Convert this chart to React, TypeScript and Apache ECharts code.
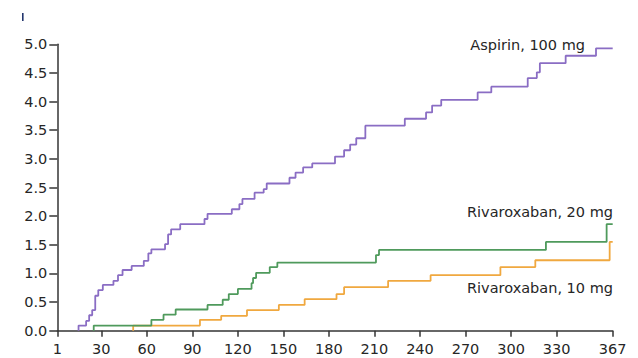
import React, { useEffect, useRef } from "react";
import * as echarts from "echarts";

// Cumulative incidence (%) by study day; each pair is [day, value after the event on that day]
const aspirinDays = [15, 15, 20, 22, 24, 26, 28, 31, 38, 41, 44, 50, 58, 61, 63, 72, 74, 76, 82, 98, 100, 116, 121, 123, 131, 137, 139, 154, 158, 163, 169, 184, 190, 194, 198, 204, 230, 244, 248, 254, 278, 287, 311, 317, 319, 336, 356, 367];
const aspirinValues = [0, 0.09, 0.17, 0.27, 0.36, 0.61, 0.71, 0.8, 0.87, 0.97, 1.06, 1.13, 1.22, 1.35, 1.42, 1.51, 1.68, 1.77, 1.86, 1.95, 2.04, 2.12, 2.21, 2.3, 2.41, 2.47, 2.57, 2.67, 2.76, 2.85, 2.92, 3.04, 3.15, 3.25, 3.36, 3.58, 3.7, 3.81, 3.93, 4.03, 4.16, 4.26, 4.41, 4.51, 4.67, 4.8, 4.93, 4.93];

const riva20Days = [25, 25, 63, 71, 79, 100, 110, 114, 120, 129, 130, 132, 141, 146, 211, 213, 323, 363, 367];
const riva20Values = [0, 0.09, 0.19, 0.28, 0.37, 0.45, 0.54, 0.64, 0.73, 0.83, 0.92, 1.01, 1.11, 1.19, 1.32, 1.41, 1.55, 1.86, 1.86];

const riva10Days = [51, 51, 95, 109, 126, 147, 164, 185, 190, 219, 247, 293, 316, 365, 367];
const riva10Values = [0, 0.09, 0.19, 0.26, 0.36, 0.45, 0.55, 0.64, 0.76, 0.87, 0.97, 1.11, 1.23, 1.55, 1.55];

const xTicks = [1, 30, 60, 90, 120, 150, 180, 210, 240, 270, 300, 330, 367];

const seriesNames = ["Aspirin, 100 mg", "Rivaroxaban, 20 mg", "Rivaroxaban, 10 mg"];
const seriesColors = ["#8a6dc4", "#4f9a5c", "#f0a83f"];

const pairs = (days: number[], values: number[]) => days.map((d, i) => [d, values[i]]);

const FONT = "DejaVu Sans";
const FONT_SIZE = 14.5;
const AXIS = "#353535";
const TEXT = "#262626";

export default function App() {
  const ref = useRef<HTMLDivElement>(null);

  useEffect(() => {
    if (!ref.current) return;
    const chart = echarts.init(ref.current, undefined, { renderer: "svg" });
    const data = [
      pairs(aspirinDays, aspirinValues),
      pairs(riva20Days, riva20Values),
      pairs(riva10Days, riva10Values),
    ];
    const seriesLabel = (text: string, x: number, y: number) => ({
      type: "text",
      x,
      y,
      silent: true,
      style: {
        text,
        fill: TEXT,
        font: `${FONT_SIZE}px "${FONT}"`,
        textAlign: "right",
        textVerticalAlign: "middle",
        align: "right",
        verticalAlign: "middle",
      },
    });
    chart.setOption({
      animation: false,
      backgroundColor: "#ffffff",
      grid: { left: 57.3, right: 25.3, top: 44.3, bottom: 27.3, containLabel: false },
      xAxis: {
        type: "value",
        min: 1,
        max: 367,
        splitLine: { show: false },
        axisLine: { show: true, lineStyle: { color: AXIS, width: 1.5 } },
        axisTick: {
          show: true,
          length: 6,
          customValues: xTicks,
          lineStyle: { color: AXIS, width: 1.5 },
        },
        axisLabel: {
          customValues: xTicks,
          margin: 11,
          color: TEXT,
          fontFamily: FONT,
          fontSize: FONT_SIZE,
          formatter: (v: number) => String(v),
        },
      },
      yAxis: {
        type: "value",
        min: 0,
        max: 5,
        interval: 0.5,
        splitLine: { show: false },
        axisLine: { show: true, lineStyle: { color: AXIS, width: 1.5 } },
        axisTick: { show: true, length: 8, lineStyle: { color: AXIS, width: 1.5 } },
        axisLabel: {
          margin: 10,
          color: TEXT,
          fontFamily: FONT,
          fontSize: FONT_SIZE,
          formatter: (v: number) => v.toFixed(1),
        },
      },
      series: data.map((d, i) => ({
        name: seriesNames[i],
        type: "line",
        step: "end",
        data: d,
        symbol: "none",
        lineStyle: { color: seriesColors[i], width: 1.8 },
        z: 3 - i,
      })),
      graphic: [
        { type: "rect", shape: { x: 22, y: 13, width: 1.6, height: 8 }, style: { fill: "#23366e" }, silent: true },
        seriesLabel(seriesNames[0], 585, 45),
        seriesLabel(seriesNames[1], 613, 211.5),
        seriesLabel(seriesNames[2], 613, 287.5),
      ],
    });
    return () => chart.dispose();
  }, []);

  return (
    <div
      ref={ref}
      style={{ position: "fixed", left: 0, top: 0, width: 638, height: 358 }}
    />
  );
}
